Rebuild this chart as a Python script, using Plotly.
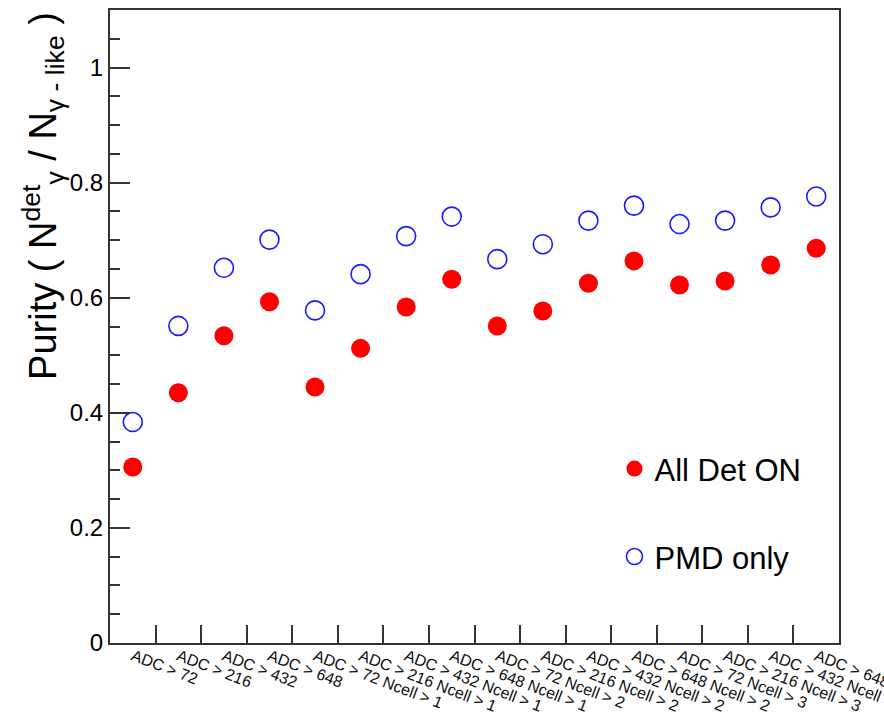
import plotly.graph_objects as go

categories = [
    "ADC > 72", "ADC > 216", "ADC > 432", "ADC > 648",
    "ADC > 72 Ncell > 1", "ADC > 216 Ncell > 1", "ADC > 432 Ncell > 1", "ADC > 648 Ncell > 1",
    "ADC > 72 Ncell > 2", "ADC > 216 Ncell > 2", "ADC > 432 Ncell > 2", "ADC > 648 Ncell > 2",
    "ADC > 72 Ncell > 3", "ADC > 216 Ncell > 3", "ADC > 432 Ncell > 3", "ADC > 648 Ncell > 3",
]
all_det_on = [0.306, 0.435, 0.534, 0.593, 0.445, 0.512, 0.584, 0.632,
              0.551, 0.577, 0.625, 0.664, 0.622, 0.629, 0.657, 0.686]
pmd_only = [0.384, 0.551, 0.652, 0.701, 0.578, 0.641, 0.707, 0.741,
            0.667, 0.693, 0.734, 0.760, 0.728, 0.734, 0.757, 0.776]
y_ticks = [0, 0.2, 0.4, 0.6, 0.8, 1.0]
y_ticktext = ["0", "0.2", "0.4", "0.6", "0.8", "1"]

n = len(categories)
xc = [i + 0.5 for i in range(n)]
edges = list(range(1, n))

FONT = "Liberation Sans, Arial, Helvetica, sans-serif"
AX = "#333333"

fig = go.Figure()
fig.add_trace(go.Scatter(
    x=xc, y=all_det_on, mode="markers", name="All Det ON",
    marker=dict(symbol="circle", size=19, color="#ff0000", line=dict(width=0)),
    legend="legend",
))
fig.add_trace(go.Scatter(
    x=xc, y=pmd_only, mode="markers", name="PMD only",
    marker=dict(symbol="circle-open", size=19, color="#1a1aff", line=dict(width=1.6)),
    legend="legend2",
))

fig.update_layout(
    width=884, height=719,
    margin=dict(l=110, r=45, t=10, b=76),
    paper_bgcolor="white", plot_bgcolor="white",
    font=dict(family=FONT, color="black"),
    showlegend=True,
    legend=dict(x=0.692, y=0.275, xanchor="left", yanchor="middle",
                font=dict(size=31, family=FONT), bgcolor="rgba(0,0,0,0)"),
    legend2=dict(x=0.692, y=0.136, xanchor="left", yanchor="middle",
                 font=dict(size=31, family=FONT), bgcolor="rgba(0,0,0,0)"),
    xaxis=dict(
        range=[0, n], tickmode="array", tickvals=xc, ticktext=categories,
        tickangle=21, ticks="", tickfont=dict(size=16, family=FONT, color="#111"),
        ticklabeloverflow="allow", automargin=False, ticklabelstandoff=-4,
        showgrid=False, zeroline=False, showline=True, linecolor=AX, linewidth=2,
        mirror=True,
        minor=dict(tickmode="array", tickvals=edges, ticks="inside", ticklen=18,
                   tickwidth=1.5, tickcolor=AX, showgrid=False),
    ),
    yaxis=dict(
        range=[0, 1.1], tickmode="array", tickvals=y_ticks, ticktext=y_ticktext,
        ticks="inside", ticklen=20, tickwidth=1.5, tickcolor=AX,
        tickfont=dict(size=24, family=FONT), automargin=False,
        showgrid=False, zeroline=False, showline=True, linecolor=AX, linewidth=2,
        mirror=True,
        minor=dict(dtick=0.05, tick0=0, ticks="inside", ticklen=10, tickwidth=1.5,
                   tickcolor=AX, showgrid=False),
    ),
    annotations=[dict(
        text="Purity ( N<sup>det</sup><sub>γ</sub> / N<sub>γ - like</sub> )",
        xref="paper", yref="paper", x=-0.092, y=1.0, xanchor="center", yanchor="top",
        textangle=-90, showarrow=False, font=dict(size=38, family=FONT),
    )],
)

fig.write_html("out.html")
